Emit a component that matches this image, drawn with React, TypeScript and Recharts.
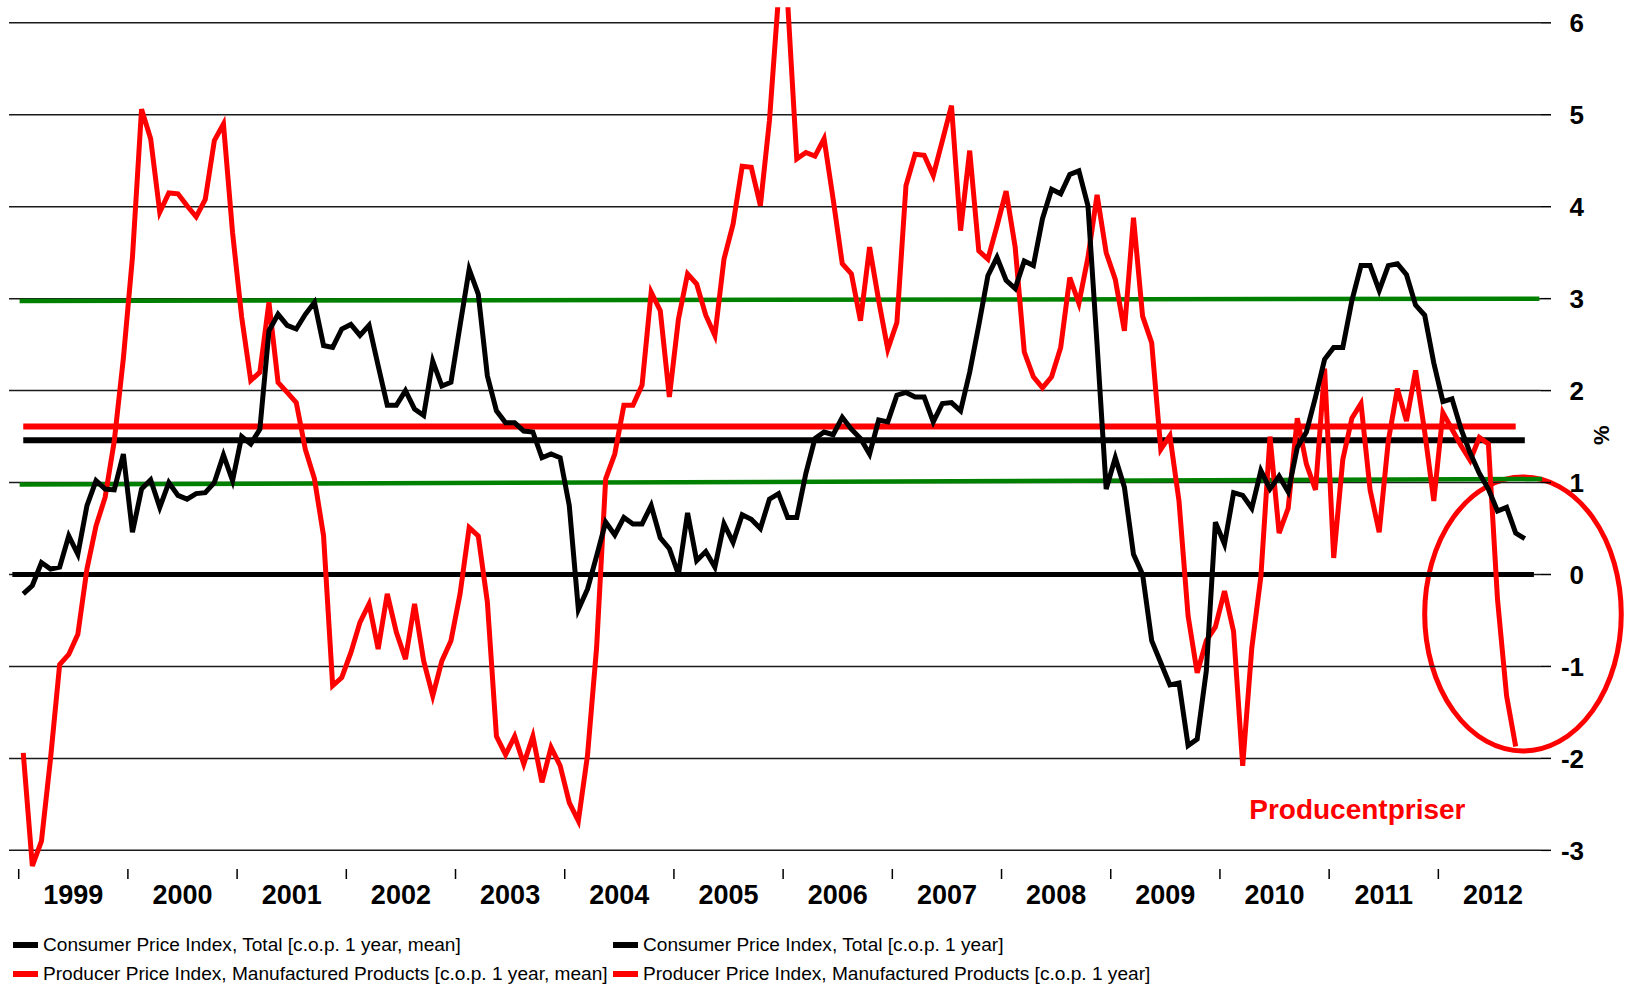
import React from "react";
import {
  LineChart,
  Line,
  XAxis,
  YAxis,
  ReferenceLine,
  ReferenceArea,
  ReferenceDot,
} from "recharts";

// monthly, Jan 1999 onwards
const years = [
  "1999", "2000", "2001", "2002", "2003", "2004", "2005",
  "2006", "2007", "2008", "2009", "2010", "2011", "2012",
];

// Consumer Price Index, Total [c.o.p. 1 year] (Jan 1999 - Oct 2012)
const cpi = [
  -0.21, -0.12, 0.13, 0.06, 0.08, 0.42, 0.22, 0.75, 1.02, 0.93, 0.92, 1.31,
  0.46, 0.93, 1.03, 0.73, 1.0, 0.86, 0.82, 0.88, 0.89, 1.0, 1.3, 1.02,
  1.5, 1.42, 1.58, 2.65, 2.83, 2.71, 2.67, 2.83, 2.96, 2.49, 2.47, 2.67,
  2.72, 2.6, 2.71, 2.27, 1.84, 1.84, 2.0, 1.8, 1.73, 2.32, 2.05, 2.09,
  2.71, 3.32, 3.05, 2.16, 1.78, 1.65, 1.65, 1.56, 1.55, 1.27, 1.31, 1.27,
  0.75, -0.38, -0.16, 0.2, 0.57, 0.43, 0.62, 0.55, 0.55, 0.75, 0.4, 0.28,
  0.0, 0.67, 0.15, 0.25, 0.08, 0.55, 0.35, 0.65, 0.6, 0.5, 0.82, 0.88,
  0.62, 0.62, 1.1, 1.48, 1.55, 1.52, 1.71, 1.58, 1.48, 1.31, 1.68, 1.66,
  1.95, 1.98, 1.93, 1.93, 1.66, 1.86, 1.87, 1.78, 2.2, 2.71, 3.25, 3.45,
  3.2, 3.11, 3.41, 3.36, 3.87, 4.19, 4.14, 4.35, 4.39, 4.01, 2.5, 0.93,
  1.27, 0.95, 0.22, 0.0, -0.72, -0.96, -1.2, -1.18, -1.86, -1.79, -1.05, 0.57,
  0.33, 0.89, 0.86, 0.72, 1.13, 0.93, 1.07, 0.9, 1.38, 1.55, 1.93, 2.34,
  2.47, 2.47, 2.98, 3.36, 3.36, 3.09, 3.36, 3.38, 3.26, 2.93, 2.82, 2.3,
  1.88, 1.91, 1.58, 1.32, 1.1, 0.93, 0.69, 0.73, 0.45, 0.39,
];

// Producer Price Index, Manufactured Products [c.o.p. 1 year] (Jan 1999 - Sep 2012)
const ppi = [
  -1.94, -3.17, -2.9, -2.0, -0.98, -0.87, -0.65, 0.06, 0.53, 0.84, 1.45, 2.35,
  3.45, 5.06, 4.74, 3.94, 4.15, 4.14, 4.01, 3.89, 4.08, 4.72, 4.9, 3.72,
  2.8, 2.11, 2.2, 2.96, 2.09, 1.98, 1.87, 1.36, 1.04, 0.42, -1.21, -1.12,
  -0.85, -0.52, -0.32, -0.81, -0.21, -0.63, -0.92, -0.32, -0.94, -1.32, -0.94, -0.72,
  -0.21, 0.51, 0.42, -0.3, -1.76, -1.96, -1.76, -2.06, -1.76, -2.26, -1.88, -2.08,
  -2.48, -2.68, -1.97, -0.8, 1.04, 1.31, 1.84, 1.84, 2.06, 3.07, 2.87, 1.93,
  2.78, 3.27, 3.16, 2.82, 2.6, 3.43, 3.81, 4.44, 4.43, 4.01, 4.94, 6.3,
  6.22, 4.52, 4.59, 4.55, 4.74, 4.08, 3.38, 3.27, 2.76, 3.56, 2.98, 2.45,
  2.74, 4.23, 4.57, 4.56, 4.34, 4.72, 5.1, 3.74, 4.61, 3.52, 3.43, 3.79,
  4.17, 3.56, 2.42, 2.15, 2.03, 2.15, 2.47, 3.23, 2.95, 3.45, 4.13, 3.5,
  3.21, 2.65, 3.88, 2.81, 2.52, 1.36, 1.51, 0.8, -0.45, -1.07, -0.72, -0.57,
  -0.18, -0.62, -2.08, -0.8, -0.02, 1.5, 0.45, 0.72, 1.7, 1.2, 0.92, 2.24,
  0.18, 1.25, 1.7, 1.86, 0.92, 0.46, 1.45, 2.02, 1.67, 2.22, 1.55, 0.8,
  1.76, 1.58, 1.4, 1.24, 1.49, 1.42, -0.27, -1.32, -1.87,
];

// period means
const cpiMean = 1.46;
const ppiMean = 1.61;

const yTicks = [-3, -2, -1, 0, 1, 2, 3, 4, 5, 6];

// hand drawn target band (left end, right end)
const bandUpper = [2.975, 3.0];
const bandLower = [0.978, 1.038];

// circled area and its caption
const circleBox = { x1: 154.0, x2: 175.6, y1: -1.92, y2: 1.06 };
const caption = { x: 146.6, y: -2.66, text: "Producentpriser" };

const legendItems = [
  { name: "Consumer Price Index, Total [c.o.p. 1 year, mean]", color: "#000000" },
  { name: "Consumer Price Index, Total [c.o.p. 1 year]", color: "#000000" },
  { name: "Producer Price Index, Manufactured Products [c.o.p. 1 year, mean]", color: "#ff0000" },
  { name: "Producer Price Index, Manufactured Products [c.o.p. 1 year]", color: "#ff0000" },
];

const FONT = "'Liberation Sans', Arial, sans-serif";

const data = cpi.map((v, i) => ({
  i,
  cpi: v,
  ppi: i < ppi.length ? ppi[i] : null,
}));

const lastCpi = cpi.length - 1;
const lastPpi = ppi.length - 1;

// year boundaries get a tick mark, year middles get the label
const xTicks = years.flatMap((_, k) => [k * 12 - 0.5, k * 12 + 5.5]);

const YearTick = ({ x, y, payload }: any) => {
  const v = payload.value as number;
  const k = (v + 0.5) / 12;
  if (Number.isInteger(k)) {
    return <line x1={x} x2={x} y1={y} y2={y + 10} stroke="#000" strokeWidth={1.5} />;
  }
  const idx = Math.round((v - 5.5) / 12);
  return (
    <text x={x} y={y + 35} textAnchor="middle" fontSize={27} fontWeight="bold" fill="#000" fontFamily={FONT}>
      {years[idx]}
    </text>
  );
};

const ValueTick = ({ x, y, payload }: any) => (
  <text x={x + 33} y={y} dy="0.36em" textAnchor="end" fontSize={26} fontWeight="bold" fill="#000" fontFamily={FONT}>
    {payload.value}
  </text>
);

const PercentLabel = ({ viewBox }: any) => {
  if (!viewBox) return null;
  const cx = viewBox.x + 61;
  const cy = viewBox.y + viewBox.height / 2 - 3;
  return (
    <text
      x={cx}
      y={cy}
      textAnchor="middle"
      dominantBaseline="central"
      fontSize={22}
      fontWeight="bold"
      fill="#000"
      fontFamily={FONT}
      transform={`rotate(-90 ${cx} ${cy})`}
    >
      %
    </text>
  );
};

const Ellipse = (props: any) => {
  const { x, y, width, height } = props;
  return (
    <ellipse
      cx={x + width / 2}
      cy={y + height / 2}
      rx={Math.abs(width) / 2}
      ry={Math.abs(height) / 2}
      fill="none"
      stroke="#ff0000"
      strokeWidth={5}
    />
  );
};

const Caption = (props: any) => (
  <text x={props.cx} y={props.cy} textAnchor="middle" fontSize={28} fontWeight="bold" fill="#ff0000" fontFamily={FONT}>
    {caption.text}
  </text>
);

const LegendBlock = () => (
  <>
    {legendItems.map((item, n) => {
      const col = n % 2;
      const row = Math.floor(n / 2);
      const left = col === 0 ? 13 : 613;
      const top = row === 0 ? 945 : 974;
      return (
        <div
          key={item.name}
          style={{ position: "absolute", left, top: top - 12, height: 24, display: "flex", alignItems: "center", whiteSpace: "nowrap" }}
        >
          <div style={{ width: 25, height: 6, background: item.color, marginRight: 5 }} />
          <span style={{ fontFamily: FONT, fontSize: 19.1, color: "#000" }}>{item.name}</span>
        </div>
      );
    })}
  </>
);

export default function App() {
  return (
    <div style={{ position: "absolute", left: 0, top: 0, width: 1626, height: 986, background: "#fff", overflow: "hidden" }}>
      <LineChart width={1626} height={920} data={data} margin={{ top: 7.2, right: 25, bottom: 6, left: 9 }}>
        <XAxis
          dataKey="i"
          type="number"
          domain={[-1.566, 166.78]}
          allowDataOverflow
          ticks={xTicks}
          interval={0}
          tick={<YearTick />}
          tickLine={false}
          axisLine={false}
          tickSize={0}
          tickMargin={0}
          height={45}
        />
        <YAxis
          orientation="right"
          type="number"
          domain={[-3.203, 6.17]}
          allowDataOverflow
          ticks={yTicks}
          interval={0}
          width={60}
          tickSize={10}
          tickMargin={0}
          tickLine={{ stroke: "#000", strokeWidth: 1.5 }}
          axisLine={false}
          tick={<ValueTick />}
          label={<PercentLabel />}
        />
        {/* horizontal grid */}
        {yTicks.map((t) => (
          <ReferenceLine key={`g${t}`} y={t} stroke="#1a1a1a" strokeWidth={1.5} />
        ))}
        <ReferenceLine
          segment={[{ x: -0.4, y: bandUpper[0] }, { x: 166.6, y: bandUpper[1] }]}
          stroke="#008000"
          strokeWidth={4.5}
          ifOverflow="visible"
        />
        <ReferenceLine
          segment={[{ x: -0.4, y: bandLower[0] }, { x: 166.9, y: bandLower[1] }]}
          stroke="#008000"
          strokeWidth={4.5}
          ifOverflow="visible"
        />
        <ReferenceLine
          segment={[{ x: -1.2, y: 0 }, { x: 166.0, y: 0 }]}
          stroke="#000"
          strokeWidth={5}
          ifOverflow="visible"
        />
        <ReferenceLine
          segment={[{ x: 0, y: cpiMean }, { x: lastCpi, y: cpiMean }]}
          stroke="#000"
          strokeWidth={6}
          ifOverflow="visible"
        />
        <ReferenceLine
          segment={[{ x: 0, y: ppiMean }, { x: lastPpi, y: ppiMean }]}
          stroke="#ff0000"
          strokeWidth={6}
          ifOverflow="visible"
        />
        <Line type="linear" dataKey="ppi" stroke="#ff0000" strokeWidth={5} dot={false} activeDot={false} isAnimationActive={false} />
        <Line type="linear" dataKey="cpi" stroke="#000000" strokeWidth={5} dot={false} activeDot={false} isAnimationActive={false} />
        <ReferenceArea
          x1={circleBox.x1}
          x2={circleBox.x2}
          y1={circleBox.y1}
          y2={circleBox.y2}
          ifOverflow="visible"
          shape={<Ellipse />}
        />
        <ReferenceDot x={caption.x} y={caption.y} r={0} ifOverflow="visible" shape={<Caption />} />
      </LineChart>
      <LegendBlock />
    </div>
  );
}
